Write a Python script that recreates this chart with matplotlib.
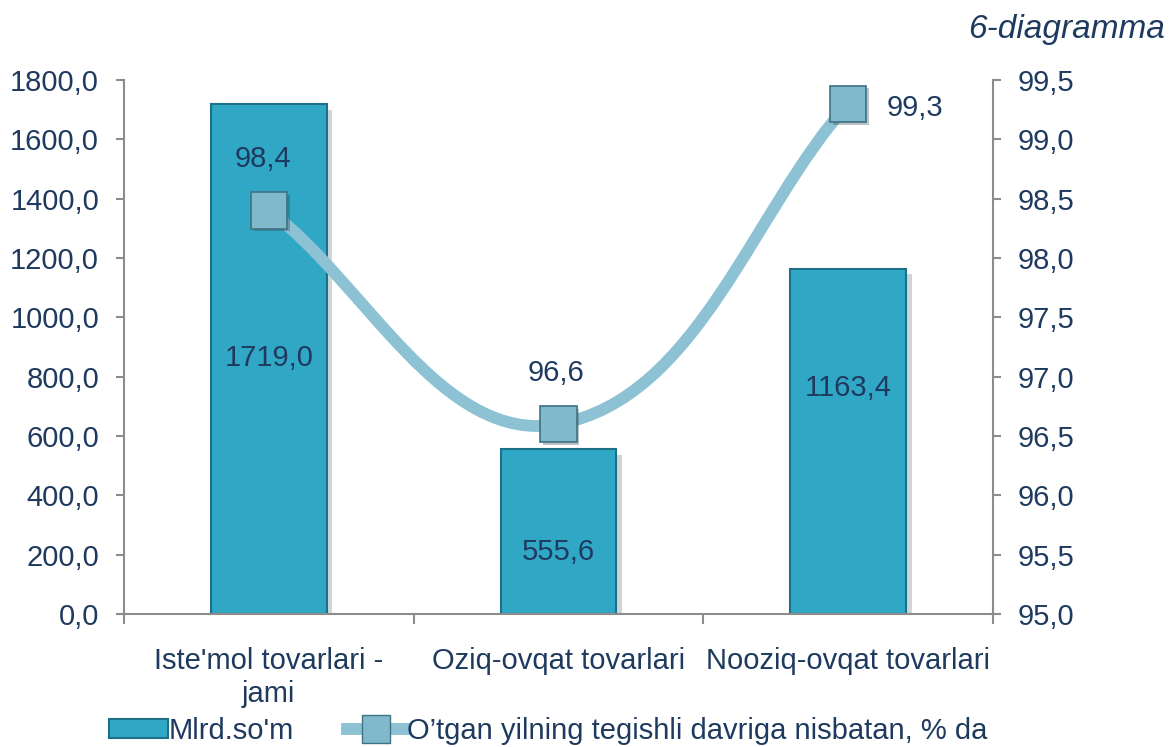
import matplotlib
matplotlib.use('Agg')
import matplotlib.pyplot as plt
import numpy as np
from matplotlib.path import Path
from matplotlib.patches import PathPatch, Patch
from matplotlib.lines import Line2D
import matplotlib.patheffects as pe

plt.rcParams['font.family'] = ['Liberation Sans', 'DejaVu Sans']

# data
categories = ["Iste'mol tovarlari -\njami", 'Oziq-ovqat tovarlari', 'Nooziq-ovqat tovarlari']
mlrd_som = [1719.0, 555.6, 1163.4]
percent = [98.4, 96.6, 99.3]
bar_name = "Mlrd.so'm"
line_name = 'O’tgan yilning tegishli davriga nisbatan, % da'
title = '6-diagramma'

text_color = '#1F3A5F'
bar_color = '#31A7C6'
bar_edge = '#1C7088'
line_color = '#8CC2D3'
marker_face = '#80B9CC'
marker_edge = '#3F7282'
spine_color = '#8C8C8C'
fs = 21

def fmt(v):
    return f'{v:.1f}'.replace('.', ',')

fig = plt.figure(figsize=(11.71, 7.47), dpi=100)
ax = fig.add_axes([0.1059, 0.178, 0.7421, 0.715])
ax2 = ax.twinx()

x = np.arange(len(categories))
bars = ax.bar(x, mlrd_som, width=0.4, color=bar_color, edgecolor=bar_edge, linewidth=1.5,
              zorder=2)
for b in bars:
    b.set_path_effects([pe.SimplePatchShadow(offset=(4, -4), alpha=0.2), pe.Normal()])

ax.set_xlim(-0.5, len(categories) - 0.5)
ax.set_ylim(0, 1800)
ax.set_yticks(np.arange(0, 1801, 200))
ax.set_yticklabels([fmt(v) for v in np.arange(0, 1801, 200)])

ax2.set_ylim(95, 99.5)
ax2.set_yticks(np.arange(95, 99.51, 0.5))
ax2.set_yticklabels([fmt(v) for v in np.arange(95, 99.51, 0.5)])

# smoothed line, Excel-like: tangents scaled by segment length in pixel space
pts = ax2.transData.transform(np.column_stack([x, percent]).astype(float))
n = len(pts)
tang = []
for i in range(n):
    d = pts[min(i + 1, n - 1)] - pts[max(i - 1, 0)]
    tang.append(d / np.hypot(*d))
verts = [tuple(pts[0])]
codes = [Path.MOVETO]
k = 0.33
for i in range(n - 1):
    L = np.hypot(*(pts[i + 1] - pts[i]))
    verts += [tuple(pts[i] + tang[i] * L * k), tuple(pts[i + 1] - tang[i + 1] * L * k),
              tuple(pts[i + 1])]
    codes += [Path.CURVE4] * 3
verts = ax2.transData.inverted().transform(np.array(verts))
curve = PathPatch(Path(verts, codes), facecolor='none', edgecolor=line_color, lw=8.5,
                  capstyle='butt', zorder=3)
ax2.add_patch(curve)
ax2.plot(x, percent, linestyle='none', marker='s', markersize=26, markerfacecolor=marker_face,
         markeredgecolor=marker_edge, markeredgewidth=1.2, zorder=4,
         path_effects=[pe.SimplePatchShadow(offset=(2, -2), alpha=0.3), pe.Normal()])

# data labels
bar_label_pos = [(0, 862), (1, 209), (2, 762)]
for (xx, yy), v in zip(bar_label_pos, mlrd_som):
    ax.text(xx, yy, fmt(v), ha='center', va='center', fontsize=fs, color=text_color, zorder=5)
line_label_pos = [(-0.02, 98.83), (0.99, 97.03), (2.23, 99.26)]
for (xx, yy), v in zip(line_label_pos, percent):
    ax2.text(xx, yy, fmt(v), ha='center', va='center', fontsize=fs, color=text_color, zorder=5)

# axes styling
for a in (ax, ax2):
    a.spines['top'].set_visible(False)
    for s in ('left', 'right', 'bottom'):
        a.spines[s].set_color(spine_color)
        a.spines[s].set_linewidth(1.5)
    a.tick_params(axis='y', colors=spine_color, labelcolor=text_color, labelsize=fs,
                  length=6, width=1.5, direction='out', pad=12)
ax.spines['right'].set_visible(False)
ax2.spines['left'].set_visible(False)
ax2.spines['bottom'].set_visible(False)

ax.set_xticks(np.arange(-0.5, len(categories), 1.0))
ax.set_xticklabels([])
ax.set_xticks(x, minor=True)
ax.set_xticklabels(categories, minor=True)
ax.tick_params(axis='x', which='major', colors=spine_color, length=7, width=1.5)
ax.tick_params(axis='x', which='minor', length=0, labelsize=fs, labelcolor=text_color, pad=24)

fig.text(0.995, 0.96, title, ha='right', va='center', fontsize=24, style='italic', color=text_color)

handles = [Patch(facecolor=bar_color, edgecolor=bar_edge, linewidth=1.5),
           Line2D([0], [0], color=line_color, lw=8.5, marker='s', markersize=20,
                  markerfacecolor=marker_face, markeredgecolor=marker_edge)]
fig.legend(handles, [bar_name, line_name], loc='center', bbox_to_anchor=(0.468, 0.022),
           ncol=2, frameon=False, fontsize=fs, labelcolor=text_color, handlelength=2.0,
           handleheight=0.6, handletextpad=0.05, columnspacing=1.8)

fig.savefig('out.png', dpi=100)
